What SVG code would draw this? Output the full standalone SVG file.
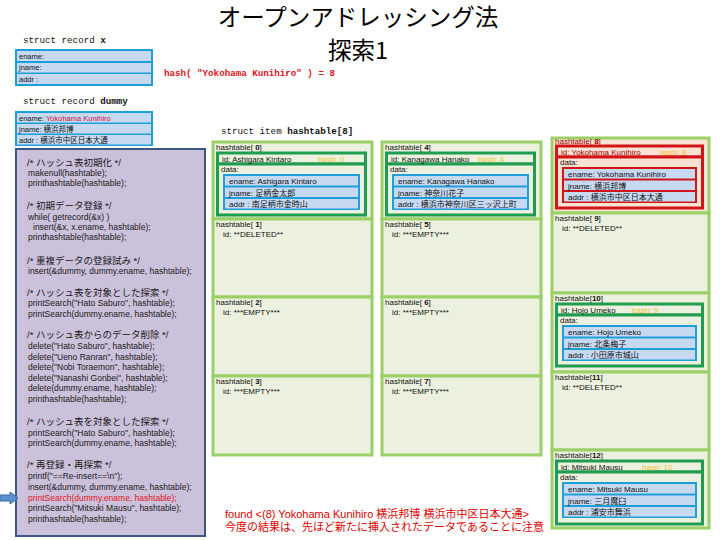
<svg xmlns="http://www.w3.org/2000/svg" width="720" height="540" viewBox="0 0 720 540">
<style>
.t{font-family:"Liberation Sans","Noto Sans CJK JP",sans-serif;font-size:8px;fill:#111}
.s{font-family:"Liberation Sans","Noto Sans CJK JP",sans-serif;font-size:7.5px;fill:#111}
.c{font-family:"Liberation Sans","Noto Sans CJK JP",sans-serif;font-size:8.5px;fill:#1a1a1a}
.cm{font-family:"Liberation Sans","Noto Sans CJK JP",sans-serif;font-size:9.5px;fill:#1a1a1a}
.m{font-family:"Liberation Mono","DejaVu Sans Mono",monospace;font-size:9.2px;fill:#111}
.cell{fill:#ebf1de;stroke:#9bd067;stroke-width:3}
.cell8{fill:#fbe3d3;stroke:#9bd067;stroke-width:3}
.gb{fill:#ebf1de;stroke:#1e9c50;stroke-width:3}
.rb{fill:#fbe3d3;stroke:#d01418;stroke-width:3}
.bl{fill:#1f9fda}
.rd{fill:#d01418}
.rw{fill:#c6d9f1}
.h{fill:#f2c233}
.b{font-weight:bold}
.ti{font-family:"Noto Sans CJK JP",sans-serif;font-size:23.5px;fill:#000}
</style>

<g id="title">
<text class="ti" x="358" y="25.5" text-anchor="middle">オープンアドレッシング法</text>
<text class="ti" x="358" y="59" text-anchor="middle">探索1</text>
</g>

<g id="record-x">
<text class="m" x="23" y="43">struct record <tspan class="b">x</tspan></text>
<rect class="bl" x="15" y="49" width="138" height="37"/>
<rect class="rw" x="17" y="51" width="134" height="10"/>
<rect class="rw" x="17" y="63" width="134" height="9.5"/>
<rect class="rw" x="17" y="74" width="134" height="10"/>
<text class="s" x="19" y="59">ename:</text>
<text class="s" x="19" y="70">jname:</text>
<text class="s" x="19" y="81.5">addr  :</text>
</g>

<g id="hash-label">
<text class="m b" x="164" y="76" style="fill:#e0141e">hash( "Yokohama Kunihiro" ) = 8</text>
</g>

<g id="record-dummy">
<text class="m" x="23" y="104">struct record <tspan class="b">dummy</tspan></text>
<rect class="bl" x="15" y="111" width="138" height="35"/>
<rect class="rw" x="17" y="113" width="134" height="9.5"/>
<rect class="rw" x="17" y="124" width="134" height="9.5"/>
<rect class="rw" x="17" y="135" width="134" height="9.5"/>
<text class="s" x="19" y="120.5">ename: <tspan style="fill:#d0103a">Yokohama Kunihiro</tspan></text>
<text class="s" x="19" y="131.5">jname: 横浜邦博</text>
<text class="s" x="19" y="142.5">addr  : 横浜市中区日本大通</text>
</g>

<g id="code">
<rect x="16" y="149" width="189" height="387" fill="#ccc1da" stroke="#3f5584" stroke-width="2"/>
<text class="cm" x="27" y="166">/* ハッシュ表初期化 */</text>
<text class="c" x="28" y="176">makenull(hashtable);</text>
<text class="c" x="28" y="186">printhashtable(hashtable);</text>
<text class="cm" x="27" y="208.5">/* 初期データ登録 */</text>
<text class="c" x="28" y="220">while( getrecord(&amp;x) )</text>
<text class="c" x="33" y="230">insert(&amp;x, x.ename, hashtable);</text>
<text class="c" x="28" y="240">printhashtable(hashtable);</text>
<text class="cm" x="27" y="263.5">/* 重複データの登録試み */</text>
<text class="c" x="28" y="274">insert(&amp;dummy, dummy.ename, hashtable);</text>
<text class="cm" x="27" y="295.5">/* ハッシュ表を対象とした探索 */</text>
<text class="c" x="28" y="305.5">printSearch("Hato Saburo", hashtable);</text>
<text class="c" x="28" y="316.5">printSearch(dummy.ename, hashtable);</text>
<text class="cm" x="27" y="338">/* ハッシュ表からのデータ削除 */</text>
<text class="c" x="28" y="349">delete("Hato Saburo", hashtable);</text>
<text class="c" x="28" y="359.5">delete("Ueno Ranran", hashtable);</text>
<text class="c" x="28" y="370">delete("Nobi Toraemon", hashtable);</text>
<text class="c" x="28" y="380.5">delete("Nanashi Gonbei", hashtable);</text>
<text class="c" x="28" y="391">delete(dummy.ename, hashtable);</text>
<text class="c" x="28" y="401.5">printhashtable(hashtable);</text>
<text class="cm" x="27" y="425">/* ハッシュ表を対象とした探索 */</text>
<text class="c" x="28" y="435.5">printSearch("Hato Saburo", hashtable);</text>
<text class="c" x="28" y="446">printSearch(dummy.ename, hashtable);</text>
<text class="cm" x="27" y="468">/* 再登録・再探索 */</text>
<text class="c" x="28" y="478.5">printf("==Re-insert==\n");</text>
<text class="c" x="28" y="489.5">insert(&amp;dummy, dummy.ename, hashtable);</text>
<text class="c" x="28" y="500.5" style="fill:#e0141e">printSearch(dummy.ename, hashtable);</text>
<text class="c" x="28" y="511">printSearch("Mitsuki Mausu", hashtable);</text>
<text class="c" x="28" y="521.5">printhashtable(hashtable);</text>
</g>

<g id="pointer-arrow">
<polygon points="0,495 10,495 10,492 18,498 10,504 10,501 0,501" fill="#5b8fd0" stroke="#3a6aa8" stroke-width="1"/>
</g>

<g id="table-title">
<text class="m" x="221" y="134">struct item <tspan class="b">hashtable[8]</tspan></text>
</g>

<g id="ht0">
<rect class="cell" x="213" y="142" width="159" height="77"/>
<text class="t" x="216" y="149.5">hashtable[ <tspan class="b">0</tspan>]</text>
<rect class="gb" x="217.5" y="153" width="148" height="11"/>
<rect class="gb" x="217.5" y="164" width="148" height="51"/>
<text class="t" x="222" y="161.5">id: Ashigara Kintaro</text>
<text class="t h" x="318" y="161.5">hash: 0</text>
<text class="t" x="221" y="172">data:</text>
<rect class="bl" x="223" y="174" width="137" height="36"/>
<rect class="rw" x="225" y="176" width="133" height="9.5"/>
<rect class="rw" x="225" y="187.5" width="133" height="9.5"/>
<rect class="rw" x="225" y="199" width="133" height="9.5"/>
<text class="t" x="229" y="184">ename: Ashigara Kintaro</text>
<text class="t" x="229" y="195.5">jname: 足柄金太郎</text>
<text class="t" x="229" y="207">addr  : 南足柄市金時山</text>
</g>
<g id="ht1">
<rect class="cell" x="213" y="219" width="159" height="78"/>
<text class="t" x="216" y="226.5">hashtable[ <tspan class="b">1</tspan>]</text>
<text class="t" x="223" y="236.5">id: **DELETED**</text>
</g>
<g id="ht2">
<rect class="cell" x="213" y="297" width="159" height="79"/>
<text class="t" x="216" y="304.5">hashtable[ <tspan class="b">2</tspan>]</text>
<text class="t" x="223" y="314.5">id: ***EMPTY***</text>
</g>
<g id="ht3">
<rect class="cell" x="213" y="376" width="159" height="79"/>
<text class="t" x="216" y="383.5">hashtable[ <tspan class="b">3</tspan>]</text>
<text class="t" x="223" y="393.5">id: ***EMPTY***</text>
</g>

<g id="ht4">
<rect class="cell" x="382" y="142" width="159" height="77"/>
<text class="t" x="385" y="149.5">hashtable[ <tspan class="b">4</tspan>]</text>
<rect class="gb" x="386.5" y="153" width="148" height="11"/>
<rect class="gb" x="386.5" y="164" width="148" height="51"/>
<text class="t" x="391" y="161.5">id: Kanagawa Hanako</text>
<text class="t h" x="478" y="161.5">hash: 4</text>
<text class="t" x="390" y="172">data:</text>
<rect class="bl" x="392" y="174" width="137" height="36"/>
<rect class="rw" x="394" y="176" width="133" height="9.5"/>
<rect class="rw" x="394" y="187.5" width="133" height="9.5"/>
<rect class="rw" x="394" y="199" width="133" height="9.5"/>
<text class="t" x="398" y="184">ename: Kanagawa Hanako</text>
<text class="t" x="398" y="195.5">jname: 神奈川花子</text>
<text class="t" x="398" y="207">addr  : 横浜市神奈川区三ッ沢上町</text>
</g>
<g id="ht5">
<rect class="cell" x="382" y="219" width="159" height="78"/>
<text class="t" x="385" y="226.5">hashtable[ <tspan class="b">5</tspan>]</text>
<text class="t" x="392" y="236.5">id: ***EMPTY***</text>
</g>
<g id="ht6">
<rect class="cell" x="382" y="297" width="159" height="79"/>
<text class="t" x="385" y="304.5">hashtable[ <tspan class="b">6</tspan>]</text>
<text class="t" x="392" y="314.5">id: ***EMPTY***</text>
</g>
<g id="ht7">
<rect class="cell" x="382" y="376" width="159" height="79"/>
<text class="t" x="385" y="383.5">hashtable[ <tspan class="b">7</tspan>]</text>
<text class="t" x="392" y="393.5">id: ***EMPTY***</text>
</g>

<g id="ht8">
<rect class="cell8" x="552" y="138" width="157" height="75"/>
<text class="t" x="555" y="144" style="fill:#a00000">hashtable[ <tspan class="b">8</tspan>]</text>
<rect class="rb" x="556.5" y="146" width="146" height="11"/>
<rect class="rb" x="556.5" y="157" width="146" height="51"/>
<text class="t" x="561" y="154.5" style="fill:#a00000">id: Yokohama Kunihiro</text>
<text class="t h" x="660" y="154.5">hash: 8</text>
<text class="t" x="560" y="165">data:</text>
<rect class="rd" x="562" y="167" width="135" height="36"/>
<rect class="rw" x="564" y="169" width="131" height="9.5"/>
<rect class="rw" x="564" y="180.5" width="131" height="9.5"/>
<rect class="rw" x="564" y="192" width="131" height="9.5"/>
<text class="t" x="568" y="177">ename: Yokohama Kunihiro</text>
<text class="t" x="568" y="188.5">jname: 横浜邦博</text>
<text class="t" x="568" y="200">addr  : 横浜市中区日本大通</text>
</g>
<g id="ht9">
<rect class="cell" x="552" y="213" width="157" height="80"/>
<text class="t" x="555" y="220.5">hashtable[ <tspan class="b">9</tspan>]</text>
<text class="t" x="562" y="230.5">id: **DELETED**</text>
</g>
<g id="ht10">
<rect class="cell" x="552" y="293" width="157" height="79"/>
<text class="t" x="555" y="300.5">hashtable[<tspan class="b">10</tspan>]</text>
<rect class="gb" x="556.5" y="304" width="146" height="11"/>
<rect class="gb" x="556.5" y="315" width="146" height="51"/>
<text class="t" x="561" y="312.5">id: Hojo Umeko</text>
<text class="t h" x="632" y="312.5">hash: 9</text>
<text class="t" x="560" y="323">data:</text>
<rect class="bl" x="562" y="325" width="135" height="36"/>
<rect class="rw" x="564" y="327" width="131" height="9.5"/>
<rect class="rw" x="564" y="338.5" width="131" height="9.5"/>
<rect class="rw" x="564" y="350" width="131" height="9.5"/>
<text class="t" x="568" y="335">ename: Hojo Umeko</text>
<text class="t" x="568" y="346.5">jname: 北条梅子</text>
<text class="t" x="568" y="358">addr  : 小田原市城山</text>
</g>
<g id="ht11">
<rect class="cell" x="552" y="372" width="157" height="78"/>
<text class="t" x="555" y="379.5">hashtable[<tspan class="b">11</tspan>]</text>
<text class="t" x="562" y="389.5">id: **DELETED**</text>
</g>
<g id="ht12">
<rect class="cell" x="552" y="450" width="157" height="78"/>
<text class="t" x="555" y="457.5">hashtable[<tspan class="b">12</tspan>]</text>
<rect class="gb" x="556.5" y="461" width="146" height="11"/>
<rect class="gb" x="556.5" y="472" width="146" height="52"/>
<text class="t" x="561" y="469.5">id: Mitsuki Mausu</text>
<text class="t h" x="642" y="469.5">hash: 10</text>
<text class="t" x="560" y="480">data:</text>
<rect class="bl" x="562" y="482" width="135" height="36"/>
<rect class="rw" x="564" y="484" width="131" height="9.5"/>
<rect class="rw" x="564" y="495.5" width="131" height="9.5"/>
<rect class="rw" x="564" y="507" width="131" height="9.5"/>
<text class="t" x="568" y="492">ename: Mitsuki Mausu</text>
<text class="t" x="568" y="503.5">jname: 三月魔臼</text>
<text class="t" x="568" y="515">addr  : 浦安市舞浜</text>
</g>

<g id="connectors"></g>

<g id="result-note">
<text x="225" y="518" style="font-family:'Liberation Sans','Noto Sans CJK JP',sans-serif;font-size:11px;fill:#e00000">found &lt;(8) Yokohama Kunihiro 横浜邦博 横浜市中区日本大通&gt;</text>
<text x="225" y="531" style="font-family:'Liberation Sans','Noto Sans CJK JP',sans-serif;font-size:11px;fill:#e00000">今度の結果は、先ほど新たに挿入されたデータであることに注意</text>
</g>
</svg>
